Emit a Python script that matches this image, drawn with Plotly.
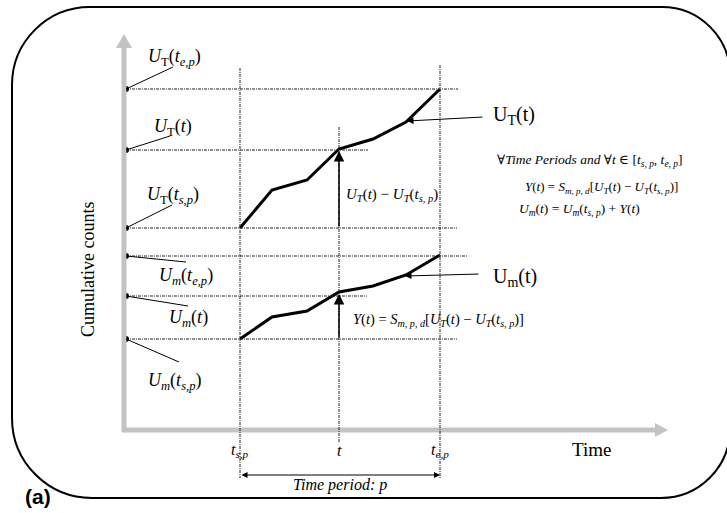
import plotly.graph_objects as go

W, H = 727, 513

# ---- data (diagram coordinates, pixel-like units) ----
curve_x = [240, 272, 307, 339, 373, 406, 440]
UT_y = [228, 190, 180, 149, 139, 122, 89]
Um_y = [339, 317, 311, 292, 286, 275, 255]

# time markers
t_sp, t_mid, t_ep = 240, 339, 440
# levels (counts) of reference lines
level_names = ["UT_e", "UT_t", "UT_s", "Um_e", "Um_t", "Um_s"]
level_y = [89, 150, 228, 256, 296, 339]
level_xend = [458, 368, 457, 467, 367, 457]
label_text = [
    "<i>U</i><sub>T</sub>(<i>t<sub>e,p</sub></i>)",
    "<i>U</i><sub>T</sub>(<i>t</i>)",
    "<i>U</i><sub>T</sub>(<i>t<sub>s,p</sub></i>)",
    "<i>U<sub>m</sub></i>(<i>t<sub>e,p</sub></i>)",
    "<i>U<sub>m</sub></i>(<i>t</i>)",
    "<i>U<sub>m</sub></i>(<i>t<sub>s,p</sub></i>)",
]
label_x = [174, 173, 173, 186, 188, 174]
label_y = [57, 127, 195, 276, 318, 381]
leader_x = [173, 170, 172, 186, 188, 179]
leader_y = [67, 136, 205, 262, 306, 362]

AX_X0, AX_Y0 = 124, 430
SERIF = "Liberation Serif, Times New Roman, DejaVu Serif, serif"

fig = go.Figure()

# rounded frame (cubic approximations of corner arcs)
k = 0.5523
L, T, R, B = 12, 7, 730, 498
rtl, rtr, rbr, rbl = 78, 68, 69, 80
path = (
    f"M {L+rtl},{T} L {R-rtr},{T} "
    f"C {R-rtr+k*rtr},{T} {R},{T+rtr-k*rtr} {R},{T+rtr} "
    f"L {R},{B-rbr} "
    f"C {R},{B-rbr+k*rbr} {R-rbr+k*rbr},{B} {R-rbr},{B} "
    f"L {L+rbl},{B} "
    f"C {L+rbl-k*rbl},{B} {L},{B-rbl+k*rbl} {L},{B-rbl} "
    f"L {L},{T+rtl} "
    f"C {L},{T+rtl-k*rtl} {L+rtl-k*rtl},{T} {L+rtl},{T} Z"
)
shapes = [dict(type="path", path=path, xref="x", yref="y",
               line=dict(color="black", width=2), fillcolor="rgba(0,0,0,0)")]

GRAY = "#c3c3c3"
shapes.append(dict(type="line", x0=AX_X0, y0=AX_Y0 + 2, x1=AX_X0, y1=46,
                   line=dict(color=GRAY, width=5), xref="x", yref="y"))
shapes.append(dict(type="line", x0=AX_X0 - 2, y0=AX_Y0, x1=657, y1=AX_Y0,
                   line=dict(color=GRAY, width=5), xref="x", yref="y"))
shapes.append(dict(type="path", path=f"M {AX_X0-8},48 L {AX_X0},34 L {AX_X0+8},48 Z",
                   fillcolor=GRAY, line=dict(width=0), xref="x", yref="y"))
shapes.append(dict(type="path", path=f"M 655,{AX_Y0-7} L 668,{AX_Y0} L 655,{AX_Y0+7} Z",
                   fillcolor=GRAY, line=dict(width=0), xref="x", yref="y"))

DASH = dict(color="#222222", width=1, dash="3px,1px,1px,1px")
for x, y0, y1 in [(t_sp, 68, 478), (t_mid, 127, 443), (t_ep, 65, 478)]:
    shapes.append(dict(type="line", x0=x, x1=x, y0=y0, y1=y1, line=DASH, xref="x", yref="y"))
for y, xe in zip(level_y, level_xend):
    shapes.append(dict(type="line", x0=AX_X0 + 2, x1=xe, y0=y, y1=y, line=DASH, xref="x", yref="y"))
for y, lx, ly in zip(level_y, leader_x, leader_y):
    shapes.append(dict(type="line", x0=126, y0=y, x1=lx, y1=ly,
                       line=dict(color="black", width=1), xref="x", yref="y"))

fig.add_trace(go.Scatter(x=curve_x, y=UT_y, mode="lines",
                         line=dict(color="black", width=3), hoverinfo="skip"))
fig.add_trace(go.Scatter(x=curve_x, y=Um_y, mode="lines",
                         line=dict(color="black", width=3), hoverinfo="skip"))
fig.add_trace(go.Scatter(x=[126] * len(level_y), y=level_y, mode="markers",
                         marker=dict(color="black", size=6), hoverinfo="skip"))

ann = []
def txt(x, y, s, size, family=SERIF, **kw):
    ann.append(dict(x=x, y=y, xref="x", yref="y", text=s, showarrow=False,
                    font=dict(family=family, size=size, color="black"), **kw))

def arrow(x, y, ax, ay, width=1, size=1, head=2, **kw):
    ann.append(dict(x=x, y=y, ax=ax, ay=ay, xref="x", yref="y", axref="x", ayref="y",
                    text="", showarrow=True, arrowhead=head, arrowsize=size,
                    arrowwidth=width, arrowcolor="black", **kw))

for s, x, y in zip(label_text, label_x, label_y):
    txt(x, y, s, 18)

txt(88, 270, "Cumulative counts", 18, textangle=-90)
txt(591, 449, "Time", 19)
txt(240, 450, "<i>t<sub>s,p</sub></i>", 16)
txt(339, 450, "<i>t</i>", 16)
txt(440, 450, "<i>t<sub>e,p</sub></i>", 16)
txt(340, 485, "<i>Time period: p</i>", 16)
txt(38, 496, "<b>(a)</b>", 21, family="Liberation Sans, Arial, sans-serif")

arrow(407, 121, 484, 117, width=1, size=1.3)
txt(514, 115, "U<sub>T</sub>(t)", 20)
arrow(405, 276, 480, 274, width=1, size=1.3)
txt(515, 277, "U<sub>m</sub>(t)", 20)

arrow(t_mid, 151, t_mid, 228, width=1.5, size=1.4)
arrow(t_mid, 294, t_mid, 339, width=1.5, size=1.4)
txt(392, 195, "<i>U</i><sub><i>T</i></sub>(<i>t</i>) − <i>U</i><sub><i>T</i></sub>(<i>t</i><sub><i>s, p</i></sub>)", 15)
txt(438, 320, "<i>Y</i>(<i>t</i>) = <i>S</i><sub><i>m, p, d</i></sub>[<i>U</i><sub><i>T</i></sub>(<i>t</i>) − <i>U</i><sub><i>T</i></sub>(<i>t</i><sub><i>s, p</i></sub>)]", 14.5)

arrow(t_ep, 475, t_sp, 475, width=1, size=1.2, arrowside="end+start")

txt(590, 160, "∀<i>Time Periods and</i> ∀<i>t</i> ∈ [<i>t</i><sub><i>s, p</i></sub>, <i>t</i><sub><i>e, p</i></sub>]", 13.5)
txt(601, 187, "<i>Y</i>(<i>t</i>) = <i>S</i><sub><i>m, p, d</i></sub>[<i>U</i><sub><i>T</i></sub>(<i>t</i>) − <i>U</i><sub><i>T</i></sub>(<i>t</i><sub><i>s, p</i></sub>)]", 13)
txt(579, 209, "<i>U</i><sub><i>m</i></sub>(<i>t</i>) = <i>U</i><sub><i>m</i></sub>(<i>t</i><sub><i>s, p</i></sub>) + <i>Y</i>(<i>t</i>)", 13.5)

fig.update_layout(
    width=W, height=H, margin=dict(l=0, r=0, t=0, b=0),
    paper_bgcolor="white", plot_bgcolor="white", showlegend=False,
    shapes=shapes, annotations=ann,
    xaxis=dict(range=[0, W], visible=False, fixedrange=True),
    yaxis=dict(range=[H, 0], visible=False, fixedrange=True),
)
fig.write_html("out.html")
